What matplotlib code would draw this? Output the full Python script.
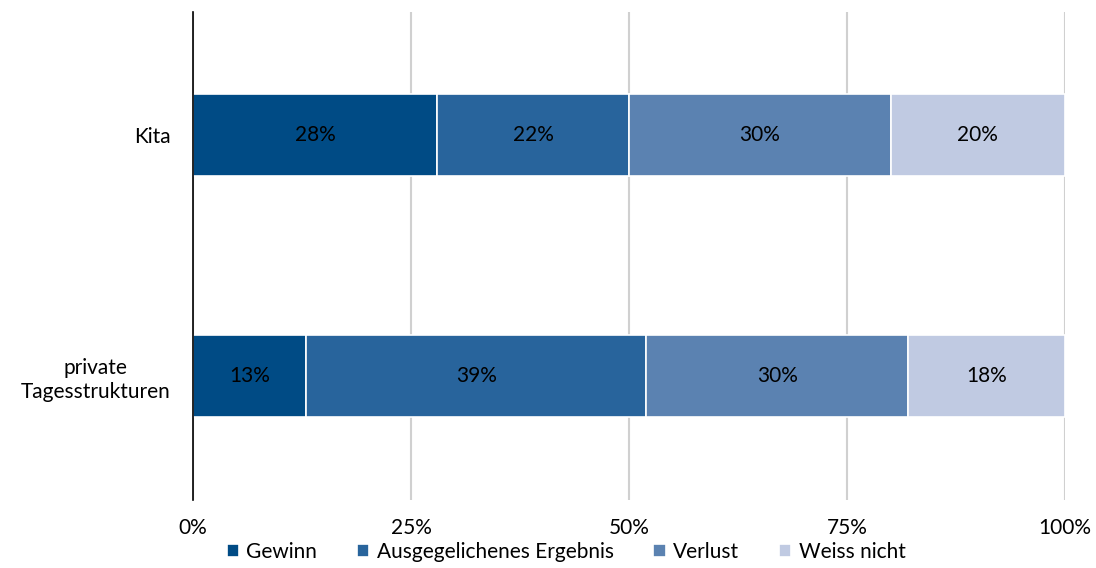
import matplotlib
matplotlib.use('Agg')
import matplotlib.pyplot as plt
import numpy as np

plt.rcParams['font.family'] = ['Lato', 'DejaVu Sans']

categories = ["Kita", "private\nTagesstrukturen"]
series = ["Gewinn", "Ausgegelichenes Ergebnis", "Verlust", "Weiss nicht"]
gewinn = [0.28, 0.13]
ausgeglichen = [0.22, 0.39]
verlust = [0.30, 0.30]
weiss_nicht = [0.20, 0.18]
ticks = [0, 0.25, 0.5, 0.75, 1.0]
tick_labels = ["0%", "25%", "50%", "75%", "100%"]

colors = ["#004B85", "#28649C", "#5B82B1", "#C0CAE2"]
values = [gewinn, ausgeglichen, verlust, weiss_nicht]
fs = 15

fig = plt.figure(figsize=(10.96, 5.68), dpi=100)
ax = fig.add_axes([193 / 1096, 1 - 500 / 568, (1065 - 193) / 1096, 488 / 568])

y = np.arange(len(categories))
left = np.zeros(len(categories))
for name, vals, col in zip(series, values, colors):
    bars = ax.barh(y, vals, left=left, height=0.34, color=col, edgecolor="white",
                   linewidth=1.2, label=name, zorder=3)
    for b, v in zip(bars, vals):
        ax.text(b.get_x() + b.get_width() / 2, b.get_y() + b.get_height() / 2,
                f"{v * 100:.0f}%", ha="center", va="center", fontsize=fs,
                color="black", zorder=4)
    left = left + np.array(vals)

ax.set_xlim(0, 1)
ax.set_ylim(1.515, -0.51)
ax.set_yticks(y)
ax.set_yticklabels(categories, fontsize=fs, linespacing=1.25, multialignment="center")
ax.set_xticks(ticks)
ax.set_xticklabels(tick_labels, fontsize=fs)
ax.tick_params(axis="both", length=0)
ax.tick_params(axis="x", pad=13)
ax.tick_params(axis="y", pad=16)

ax.xaxis.grid(True, color="#D0D0D0", linewidth=1.5, zorder=0)
for s in ["top", "right", "bottom"]:
    ax.spines[s].set_visible(False)
ax.spines["left"].set_color("black")
ax.spines["left"].set_linewidth(1.2)
ax.spines["left"].set_zorder(5)

ax.legend(loc="center", bbox_to_anchor=(566 / 1096, 1 - 552 / 568),
          bbox_transform=fig.transFigure, ncol=4, frameon=False, fontsize=fs,
          handlelength=0.6, handleheight=0.6, handletextpad=0.35, columnspacing=1.9,
          borderpad=0, borderaxespad=0)

fig.savefig("out.png", dpi=100)
